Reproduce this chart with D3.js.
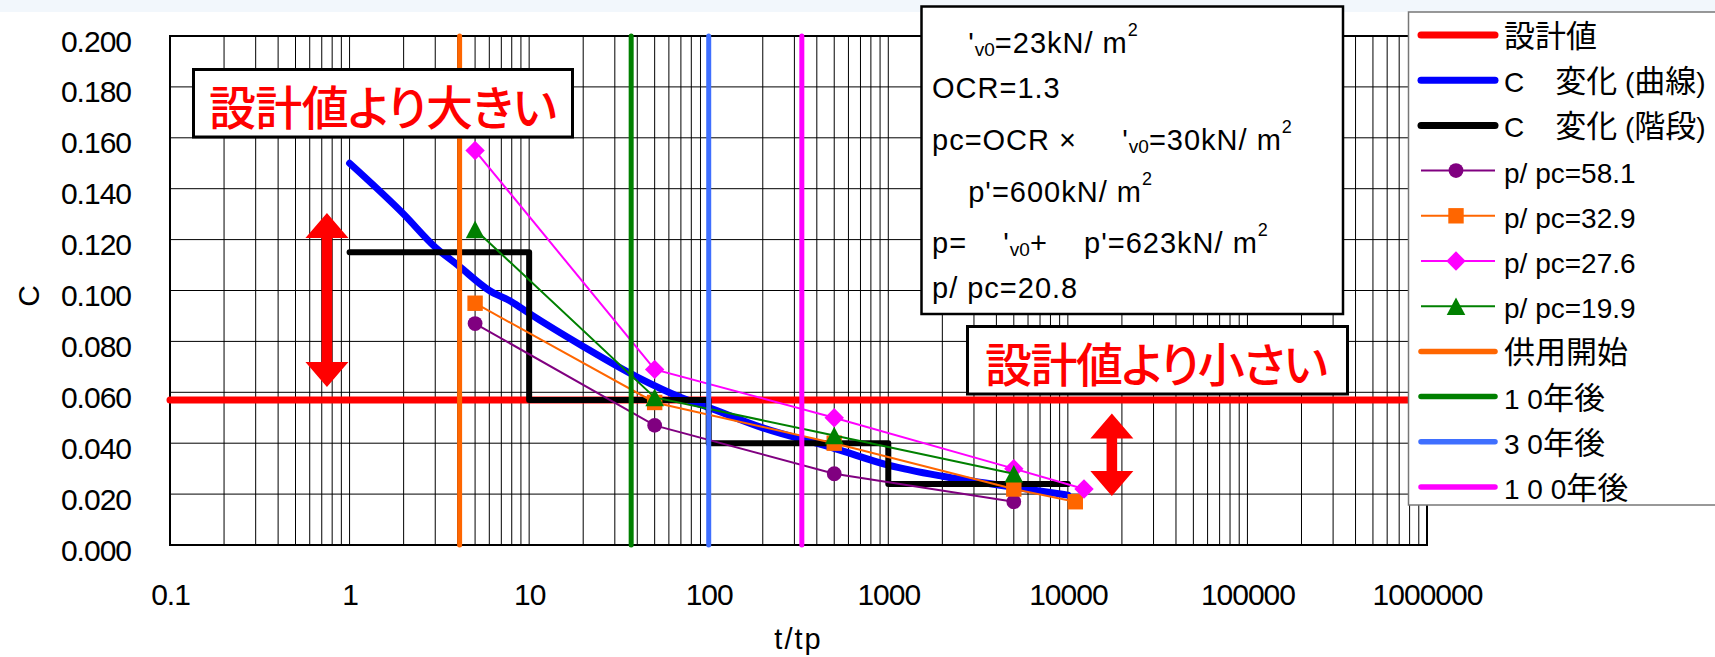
<!DOCTYPE html>
<html>
<head>
<meta charset="utf-8">
<script src="https://cdn.jsdelivr.net/npm/d3@7"></script>
<style>
  html, body { margin: 0; padding: 0; background: #fff; }
  svg { display: block; }
  text { font-family: "Liberation Sans", Arial, "Noto Sans CJK JP", sans-serif; }
</style>
</head>
<body>
<svg id="chart" width="1715" height="657"></svg>
<script>
// ---- data -------------------------------------------------------------
// design value of C
const designValue = 0.057;

// C change, smooth curve
const curveT = [1, 2, 3, 4, 6, 8, 10, 20, 40, 70, 100, 200, 500, 1000, 2000, 5000, 10000];
const curveC = [0.150, 0.130, 0.117, 0.110, 0.100, 0.0955, 0.091, 0.078, 0.066, 0.058, 0.054, 0.046, 0.038, 0.0314, 0.027, 0.0227, 0.0196];

// C change, stepped
const stepT = [1, 10, 100, 1000, 10000];
const stepC = [0.115, 0.057, 0.040, 0.024, 0.024];

// measured series for each load ratio
const seriesNames = ["p/ pc=58.1", "p/ pc=32.9", "p/ pc=27.6", "p/ pc=19.9"];
const seriesT = [
  [5, 50, 500, 5000],
  [5, 50, 500, 5000, 11000],
  [5, 50, 500, 5000, 12300],
  [5, 50, 500, 5000]
];
const seriesC = [
  [0.087, 0.047, 0.028, 0.017],
  [0.095, 0.056, 0.040, 0.022, 0.017],
  [0.155, 0.069, 0.050, 0.030, 0.022],
  [0.124, 0.058, 0.043, 0.028]
];

// milestones in service life
const milestoneNames = ["供用開始", "1 0年後", "3 0年後", "1 0 0年後"];
const milestoneT = [4.1, 37, 100, 330];

// legend labels of the line series
const designName = "設計値";
const curveName = "C　変化 (曲線)";
const stepName = "C　変化 (階段)";

// axis ticks
const xTicks = [0.1, 1, 10, 100, 1000, 10000, 100000, 1000000];
const xTickLabels = ["0.1", "1", "10", "100", "1000", "10000", "100000", "1000000"];
const yTicks = [0, 0.02, 0.04, 0.06, 0.08, 0.10, 0.12, 0.14, 0.16, 0.18, 0.20];
const yTickLabels = ["0.000", "0.020", "0.040", "0.060", "0.080", "0.100", "0.120", "0.140", "0.160", "0.180", "0.200"];
const xTitle = "t/tp";
const yTitle = "C";

// annotations
const noteHigh = "設計値より大きい";
const noteLow = "設計値より小さい";
const arrowHighT = 0.748, arrowHighC = [0.0621, 0.1305];
const arrowLowT = 17580, arrowLowC = [0.0193, 0.0517];

// parameter box lines (_{..} subscript, ^{..} superscript)
const paramLines = [
  "\u00a0\u00a0\u00a0\u00a0'_{v0}=23kN/ m^{2}",
  "OCR=1.3",
  "pc=OCR × \u00a0\u00a0\u00a0\u00a0'_{v0}=30kN/ m^{2}",
  "\u00a0\u00a0\u00a0\u00a0p'=600kN/ m^{2}",
  "p=\u00a0\u00a0\u00a0\u00a0'_{v0}+\u00a0\u00a0\u00a0\u00a0p'=623kN/ m^{2}",
  "p/ pc=20.8"
];

// ---- layout -----------------------------------------------------------
const svg = d3.select("#chart");
const L = 170, R = 1427, T = 36, B = 545;
const x = d3.scaleLog().domain([0.1, 1e6]).range([L, R]);
const y = d3.scaleLinear().domain([0, 0.2]).range([B, T]);

const seriesColors = ["#800080", "#ff6600", "#ff00ff", "#008000"];
const seriesShapes = ["circle", "square", "diamond", "triangle"];
const milestoneColors = ["#ff6600", "#008000", "#3f6fff", "#ff00ff"];

svg.append("rect").attr("x", 0).attr("y", 0).attr("width", 1715).attr("height", 657).attr("fill", "#fff");
svg.append("rect").attr("x", 0).attr("y", 0).attr("width", 1715).attr("height", 12).attr("fill", "#f2f7fc");

// grid
const grid = svg.append("g");
const minor = [];
for (let e = -1; e < 6; e++) for (let k = 1; k <= 9; k++) minor.push(k * Math.pow(10, e));
minor.push(1e6);
grid.selectAll("line.v").data(minor).join("line")
  .attr("x1", d => x(d)).attr("x2", d => x(d)).attr("y1", T).attr("y2", B)
  .attr("stroke", "#000").attr("stroke-width", 1);
grid.selectAll("line.h").data(yTicks).join("line")
  .attr("x1", L).attr("x2", R).attr("y1", d => y(d)).attr("y2", d => y(d))
  .attr("stroke", "#000").attr("stroke-width", 1);

svg.append("rect").attr("x", L).attr("y", T).attr("width", R - L).attr("height", B - T)
  .attr("fill", "none").attr("stroke", "#000").attr("stroke-width", 2);

// axes
const yAxis = svg.append("g").attr("transform", `translate(${L},0)`)
  .call(d3.axisLeft(y).tickValues(yTicks).tickFormat((d, i) => yTickLabels[i]).tickSize(0).tickPadding(39));
yAxis.select(".domain").remove();
yAxis.selectAll("text").attr("dy", 15).attr("font-size", 30).attr("letter-spacing", -1)
  .attr("fill", "#000").attr("font-family", "Liberation Sans, Arial, sans-serif");

const xAxis = svg.append("g").attr("transform", `translate(0,${B})`)
  .call(d3.axisBottom(x).tickValues(xTicks).tickFormat((d, i) => xTickLabels[i]).tickSize(0));
xAxis.select(".domain").remove();
xAxis.selectAll("text").attr("y", 60).attr("dy", 0).attr("font-size", 30).attr("letter-spacing", -1)
  .attr("fill", "#000").attr("font-family", "Liberation Sans, Arial, sans-serif");

svg.append("text").attr("x", (L + R) / 2).attr("y", 649).attr("text-anchor", "middle")
  .attr("font-size", 29).attr("letter-spacing", 2).text(xTitle);
svg.append("text").attr("transform", "translate(39,296) rotate(-90)").attr("text-anchor", "middle")
  .attr("font-size", 30).text(yTitle);

// design value line
svg.append("line").attr("x1", x(0.1)).attr("x2", x(1e6)).attr("y1", y(designValue)).attr("y2", y(designValue))
  .attr("stroke", "#ff0000").attr("stroke-width", 7).attr("stroke-linecap", "round");

// smooth C curve
const lineGen = d3.line().x(d => x(d[0])).y(d => y(d[1]));
svg.append("path").datum(d3.zip(curveT, curveC))
  .attr("d", lineGen.curve(d3.curveMonotoneX))
  .attr("fill", "none").attr("stroke", "#0000ff").attr("stroke-width", 7)
  .attr("stroke-linecap", "round").attr("stroke-linejoin", "round");

// stepped C
svg.append("path").datum(d3.zip(stepT, stepC))
  .attr("d", d3.line().x(d => x(d[0])).y(d => y(d[1])).curve(d3.curveStepAfter))
  .attr("fill", "none").attr("stroke", "#000").attr("stroke-width", 6)
  .attr("stroke-linecap", "round").attr("stroke-linejoin", "round");

// marker shapes
function marker(sel, shape, color) {
  if (shape === "circle") sel.append("circle").attr("r", 7.4).attr("fill", color);
  else if (shape === "square") sel.append("rect").attr("x", -7.7).attr("y", -7.7).attr("width", 15.4).attr("height", 15.4).attr("fill", color);
  else if (shape === "diamond") sel.append("path").attr("d", "M0,-9.7L9.7,0L0,9.7L-9.7,0Z").attr("fill", color);
  else sel.append("path").attr("d", "M0,-8.8L9.3,8.8L-9.3,8.8Z").attr("fill", color);
}

// measured series
seriesNames.forEach((name, i) => {
  const pts = d3.zip(seriesT[i], seriesC[i]);
  const g = svg.append("g");
  g.append("path").datum(pts).attr("d", d3.line().x(d => x(d[0])).y(d => y(d[1])))
    .attr("fill", "none").attr("stroke", seriesColors[i]).attr("stroke-width", 2);
  pts.forEach(p => {
    const m = g.append("g").attr("transform", `translate(${x(p[0])},${y(p[1])})`);
    marker(m, seriesShapes[i], seriesColors[i]);
  });
});

// milestone verticals
svg.selectAll("line.ms").data(milestoneT).join("line")
  .attr("x1", d => x(d)).attr("x2", d => x(d)).attr("y1", y(0.2)).attr("y2", y(0))
  .attr("stroke", (d, i) => milestoneColors[i]).attr("stroke-width", 5).attr("stroke-linecap", "round");

// double arrows
function doubleArrow(t, c0, c1) {
  const cx = x(t), yb = y(c0), yt = y(c1);
  const hw = 21.5, hh = 25, sw = 5.3;
  const d = `M${cx},${yt}L${cx + hw},${yt + hh}L${cx + sw},${yt + hh}L${cx + sw},${yb - hh}L${cx + hw},${yb - hh}` +
            `L${cx},${yb}L${cx - hw},${yb - hh}L${cx - sw},${yb - hh}L${cx - sw},${yt + hh}L${cx - hw},${yt + hh}Z`;
  svg.append("path").attr("d", d).attr("fill", "#ff0000");
}
doubleArrow(arrowHighT, arrowHighC[0], arrowHighC[1]);
doubleArrow(arrowLowT, arrowLowC[0], arrowLowC[1]);

// annotation boxes
function noteBox(text, bx, by, bw, bh, tx, ty, tw) {
  svg.append("rect").attr("x", bx).attr("y", by).attr("width", bw).attr("height", bh)
    .attr("fill", "#fff").attr("stroke", "#000").attr("stroke-width", 3);
  svg.append("text").attr("x", tx).attr("y", ty).attr("fill", "#ff0000")
    .attr("font-family", "Noto Sans CJK JP").attr("font-weight", 500).attr("font-size", 47)
    .style("font-feature-settings", "'palt'")
    .attr("textLength", tw).attr("lengthAdjust", "spacing").text(text);
}
noteBox(noteHigh, 193.5, 69.5, 379, 67.5, 209, 125, 348);
noteBox(noteLow, 967.5, 326.5, 380, 67.5, 985, 382, 343);

// parameter box
svg.append("rect").attr("x", 921.5).attr("y", 6.5).attr("width", 421.5).attr("height", 307.5)
  .attr("fill", "#fff").attr("stroke", "#000").attr("stroke-width", 2.5);
const paramBase = [53, 98, 150, 202, 253, 298];
paramLines.forEach((line, i) => {
  const t = svg.append("text").attr("x", 932).attr("y", paramBase[i]).attr("font-size", 29).attr("letter-spacing", 1);
  let shift = 0;
  line.split(/(_\{[^}]*\}|\^\{[^}]*\})/).filter(s => s.length).forEach(seg => {
    let target = 0, size = null, s = seg;
    if (seg.startsWith("_{")) { target = 3; size = 19; s = seg.slice(2, -1); }
    else if (seg.startsWith("^{")) { target = -17; size = 18; s = seg.slice(2, -1); }
    const ts = t.append("tspan").attr("dy", target - shift).text(s);
    if (size) ts.attr("font-size", size).attr("letter-spacing", 0);
    shift = target;
  });
});

// legend
const lg = svg.append("g");
lg.append("rect").attr("x", 1408.5).attr("y", 12).attr("width", 330).attr("height", 493)
  .attr("fill", "#fff").attr("stroke", "#777").attr("stroke-width", 1.5);
const legendItems = [
  { name: designName, color: "#ff0000", w: 7 },
  { name: curveName, color: "#0000ff", w: 7 },
  { name: stepName, color: "#000", w: 7 }
].concat(seriesNames.map((n, i) => ({ name: n, color: seriesColors[i], w: 2, shape: seriesShapes[i] })))
 .concat(milestoneNames.map((n, i) => ({ name: n, color: milestoneColors[i], w: 5.5 })));

legendItems.forEach((it, i) => {
  const cy = 35 + i * 45.2;
  const g = lg.append("g");
  if (it.shape) {
    g.append("line").attr("x1", 1421).attr("x2", 1495).attr("y1", cy).attr("y2", cy)
      .attr("stroke", it.color).attr("stroke-width", 2);
    marker(g.append("g").attr("transform", `translate(1456,${cy})`), it.shape, it.color);
  } else {
    g.append("line").attr("x1", 1421).attr("x2", 1495).attr("y1", cy).attr("y2", cy)
      .attr("stroke", it.color).attr("stroke-width", it.w).attr("stroke-linecap", "round");
  }
  const t = g.append("text").attr("x", 1504).attr("y", cy + 12).attr("font-size", 28);
  it.name.split(/([\u3000-\u9fff\uff00-\uffef]+)/).filter(s => s.length).forEach(seg => {
    const ts = t.append("tspan").text(seg);
    if (/[\u3000-\u9fff\uff00-\uffef]/.test(seg)) ts.attr("font-size", 31).attr("font-family", "Noto Sans CJK JP");
  });
});
</script>
</body>
</html>
